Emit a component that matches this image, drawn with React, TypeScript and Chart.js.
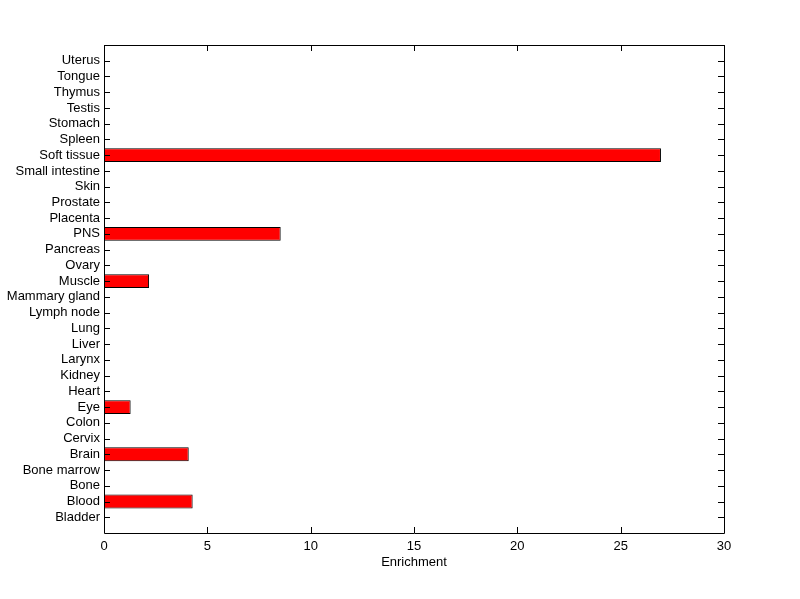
import React, { useEffect, useRef } from "react";
import { Chart, registerables } from "chart.js";

Chart.register(...registerables);

const categories = [
  "Bladder", "Blood", "Bone", "Bone marrow", "Brain", "Cervix", "Colon", "Eye",
  "Heart", "Kidney", "Larynx", "Liver", "Lung", "Lymph node", "Mammary gland",
  "Muscle", "Ovary", "Pancreas", "PNS", "Placenta", "Prostate", "Skin",
  "Small intestine", "Soft tissue", "Spleen", "Stomach", "Testis", "Thymus",
  "Tongue", "Uterus",
];

const enrichment = [
  0, 4.29, 0, 0, 4.1, 0, 0, 1.29,
  0, 0, 0, 0, 0, 0, 0,
  2.18, 0, 0, 8.55, 0, 0, 0,
  0, 26.95, 0, 0, 0, 0,
  0, 0,
];

const xTicks = [0, 5, 10, 15, 20, 25, 30];
const xTitle = "Enrichment";

const FONT = "'Liberation Sans', Arial, Helvetica, sans-serif";

const framePlugin = {
  id: "matlabFrame",
  afterDatasetsDraw(chart: any) {
    const { ctx, chartArea, scales } = chart;
    const { left, right, top, bottom } = chartArea;
    const L = 6;
    ctx.save();
    ctx.strokeStyle = "#000";
    ctx.lineWidth = 1;
    ctx.beginPath();
    ctx.rect(Math.round(left) + 0.5, Math.round(top) + 0.5, Math.round(right - left), Math.round(bottom - top));
    xTicks.forEach((v) => {
      const px = Math.round(scales.x.getPixelForValue(v)) + 0.5;
      ctx.moveTo(px, Math.round(bottom));
      ctx.lineTo(px, Math.round(bottom) - L);
      ctx.moveTo(px, Math.round(top));
      ctx.lineTo(px, Math.round(top) + L);
    });
    categories.forEach((_, i) => {
      const py = Math.round(scales.y.getPixelForValue(i + 1)) + 0.5;
      ctx.moveTo(Math.round(left), py);
      ctx.lineTo(Math.round(left) + L, py);
      ctx.moveTo(Math.round(right), py);
      ctx.lineTo(Math.round(right) - L, py);
    });
    ctx.stroke();
    ctx.restore();
  },
};

export default function App() {
  const ref = useRef<HTMLCanvasElement | null>(null);

  useEffect(() => {
    if (!ref.current) return;
    const data = categories.map((_, i) => ({ x: enrichment[i], y: i + 1 }));
    const chart = new Chart(ref.current, {
      type: "bar",
      data: {
        datasets: [
          {
            data: data as any,
            backgroundColor: "#ff0000",
            borderColor: "#000000",
            borderWidth: 1,
            borderSkipped: false,
            barPercentage: 0.88,
            categoryPercentage: 1,
          },
        ],
      },
      options: {
        indexAxis: "y",
        animation: false,
        responsive: false,
        devicePixelRatio: 1,
        layout: { padding: { left: 0, top: 45, right: 76, bottom: 0 } },
        plugins: { legend: { display: false }, tooltip: { enabled: false } },
        scales: {
          x: {
            type: "linear",
            position: "bottom",
            min: 0,
            max: 30,
            afterBuildTicks: (scale: any) => {
              scale.ticks = xTicks.map((v) => ({ value: v }));
            },
            afterFit: (scale: any) => {
              scale.height = 66;
            },
            grid: { display: false, drawTicks: false },
            border: { display: false },
            ticks: {
              padding: 6,
              color: "#000",
              font: { family: FONT, size: 13 },
            },
            title: {
              display: true,
              text: xTitle,
              color: "#000",
              font: { family: FONT, size: 13 },
              padding: { top: 0, bottom: 29 },
            },
          },
          y: {
            type: "linear",
            position: "left",
            offset: false,
            min: 0,
            max: categories.length + 1,
            afterBuildTicks: (scale: any) => {
              scale.ticks = categories.map((_, i) => ({ value: i + 1 }));
            },
            afterFit: (scale: any) => {
              scale.width = 104;
            },
            grid: { display: false, drawTicks: false },
            border: { display: false },
            ticks: {
              autoSkip: false,
              padding: 4,
              color: "#000",
              font: { family: FONT, size: 13 },
              callback: (v: any) => categories[Number(v) - 1] ?? "",
            },
          },
        },
      },
      plugins: [framePlugin],
    });
    return () => chart.destroy();
  }, []);

  return (
    <div style={{ position: "fixed", left: 0, top: 0, width: 800, height: 599, background: "#fff" }}>
      <canvas ref={ref} width={800} height={599} style={{ display: "block" }} />
    </div>
  );
}
